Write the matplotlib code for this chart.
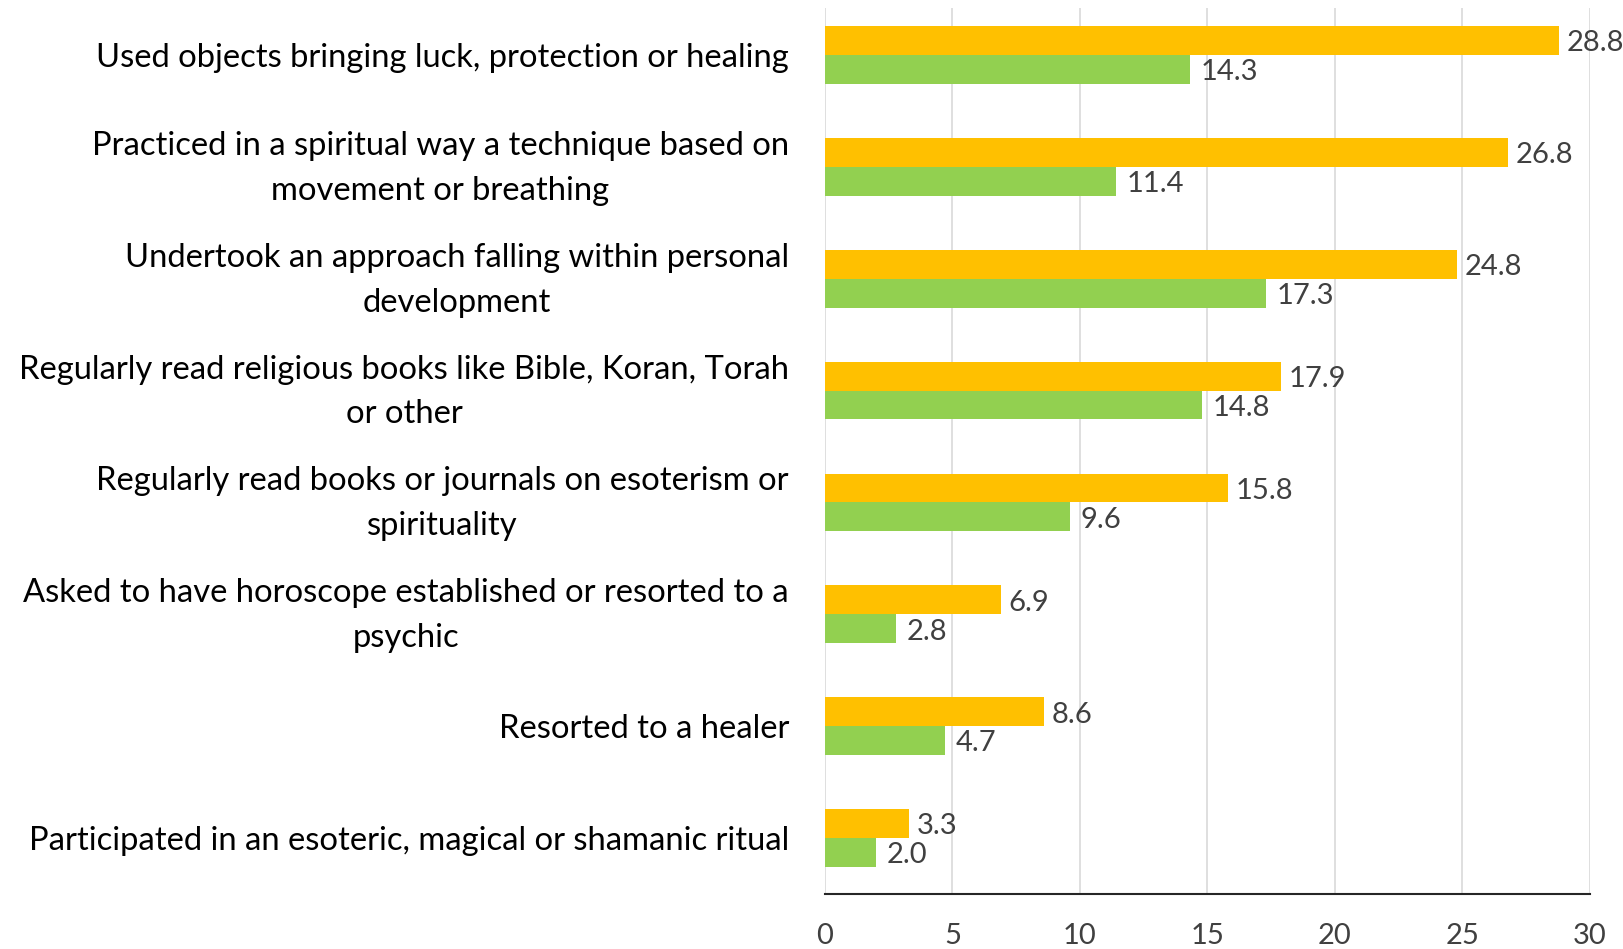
import numpy as np
import matplotlib.pyplot as plt
from matplotlib.transforms import ScaledTranslation

categories = [
    "Used objects bringing luck, protection or healing",
    "Practiced in a spiritual way a technique based on\nmovement or breathing",
    "Undertook an approach falling within personal\ndevelopment",
    "Regularly read religious books like Bible, Koran, Torah\nor other",
    "Regularly read books or journals on esoterism or\nspirituality",
    "Asked to have horoscope established or resorted to a\npsychic",
    "Resorted to a healer",
    "Participated in an esoteric, magical or shamanic ritual",
]
yellow_vals = [28.8, 26.8, 24.8, 17.9, 15.8, 6.9, 8.6, 3.3]
green_vals = [14.3, 11.4, 17.3, 14.8, 9.6, 2.8, 4.7, 2.0]
xticks = [0, 5, 10, 15, 20, 25, 30]

plt.rcParams['font.family'] = ['Lato', 'DejaVu Sans']

fig = plt.figure(figsize=(16.24, 9.49), dpi=100)
ax = fig.add_axes([825 / 1624, 1 - 894 / 949, 765 / 1624, 886 / 949])

y = np.arange(len(categories))
h = 0.258
ax.barh(y - h / 2, yellow_vals, height=h, color="#FFC000", zorder=3)
ax.barh(y + h / 2, green_vals, height=h, color="#92D050", zorder=3)

# value labels (a touch below bar centre, like the original)
nudge = ScaledTranslation(0, -2 / 72, fig.dpi_scale_trans)
for i in range(len(categories)):
    ax.text(yellow_vals[i] + 0.3, y[i] - h / 2, "%.1f" % yellow_vals[i],
            va="center", ha="left", fontsize=21, color="#404040",
            transform=ax.transData + nudge)
    ax.text(green_vals[i] + 0.42, y[i] + h / 2, "%.1f" % green_vals[i],
            va="center", ha="left", fontsize=21, color="#404040",
            transform=ax.transData + nudge)

ax.set_xlim(0, 30)
ax.set_ylim(7.5, -0.42)
ax.set_xticks(xticks)
ax.set_xticklabels([str(t) for t in xticks], fontsize=21, color="#404040")
ax.set_yticks(y)
ax.set_yticklabels(categories, fontsize=23.6, color="black", multialignment="center",
                   linespacing=1.62)
ax.tick_params(axis="both", length=0)
ax.tick_params(axis="x", pad=21)
ax.tick_params(axis="y", pad=26)

# two-line labels sit a bit low, nudge them up
for lab in ax.get_yticklabels():
    if "\n" in lab.get_text():
        lab.set_transform(lab.get_transform() + ScaledTranslation(0, 6.5 / 72, fig.dpi_scale_trans))

ax.grid(axis="x", color="#D9D9D9", linewidth=1.2, zorder=0)
for s in ["top", "right", "left"]:
    ax.spines[s].set_visible(False)
ax.spines["bottom"].set_color("#262626")
ax.spines["bottom"].set_linewidth(1.5)
ax.spines["bottom"].set_zorder(4)

fig.savefig("out.png", dpi=100)
